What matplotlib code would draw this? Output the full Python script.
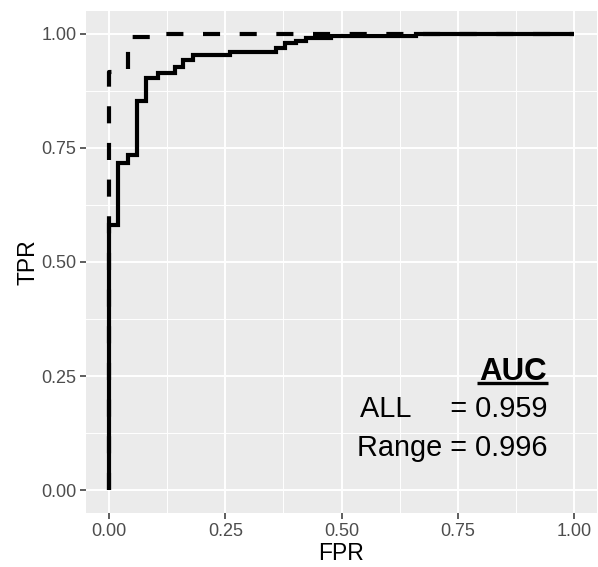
import matplotlib
matplotlib.use("Agg")
import matplotlib.pyplot as plt

plt.rcParams['font.family'] = ['Liberation Sans', 'DejaVu Sans']

# ROC corner points (FPR, TPR)
fpr_all = [0.0, 0.0, 0.019, 0.040, 0.060, 0.080, 0.104, 0.141, 0.159, 0.180,
           0.259, 0.360, 0.378, 0.403, 0.424, 0.478, 0.661, 1.0]
tpr_all = [0.0, 0.580, 0.716, 0.735, 0.852, 0.903, 0.914, 0.928, 0.943, 0.954,
           0.961, 0.968, 0.979, 0.985, 0.990, 0.995, 1.0, 1.0]

fpr_range = [0.0, 0.0, 0.040, 0.100, 1.0]
tpr_range = [0.0, 0.917, 0.994, 1.0, 1.0]

auc_all = 0.959
auc_range = 0.996

ticks = [0.0, 0.25, 0.5, 0.75, 1.0]
tick_labels = ["0.00", "0.25", "0.50", "0.75", "1.00"]

fig = plt.figure(figsize=(5.98, 5.67), dpi=100)
ax = fig.add_axes([86 / 598, 1 - 513 / 567, 511 / 598, 502 / 567])
ax.set_facecolor("#EBEBEB")

ax.plot(fpr_all, tpr_all, drawstyle="steps-post", color="black", lw=3.0,
        solid_capstyle="butt", solid_joinstyle="miter", zorder=3)
ax.plot(fpr_range, tpr_range, drawstyle="steps-post", color="black", lw=3.0,
        linestyle=(0, (4.1, 4.7)), dash_capstyle="butt", zorder=3)

ax.set_xlim(-0.05, 1.05)
ax.set_ylim(-0.05, 1.05)
ax.set_xticks(ticks)
ax.set_xticklabels(tick_labels)
ax.set_yticks(ticks)
ax.set_yticklabels(tick_labels)
ax.set_xticks([0.125, 0.375, 0.625, 0.875], minor=True)
ax.set_yticks([0.125, 0.375, 0.625, 0.875], minor=True)
ax.grid(which="major", color="white", lw=1.4)
ax.grid(which="minor", color="white", lw=0.7)
ax.set_axisbelow(True)
for s in ax.spines.values():
    s.set_visible(False)
ax.tick_params(which="major", length=4, width=1.1, color="#333333",
               labelcolor="#4D4D4D", labelsize=13, pad=3)
ax.tick_params(which="minor", length=0)

ax.set_xlabel("FPR", fontsize=16.5, color="black", labelpad=2)
ax.set_ylabel("TPR", fontsize=16.5, color="black", labelpad=1)

# AUC annotation
xr = 0.943
ax.text(xr, 0.241, "AUC", ha="right", va="baseline", fontsize=22.5,
        fontweight="bold", zorder=4)
ax.plot([0.791, 0.944], [0.234, 0.234], color="black", lw=2.4, zorder=4,
        solid_capstyle="butt")
ax.text(xr, 0.160, "ALL     = %.3f" % auc_all, ha="right", va="baseline",
        fontsize=20.8, zorder=4)
ax.text(xr, 0.0746, "Range = %.3f" % auc_range, ha="right", va="baseline",
        fontsize=20.8, zorder=4)

fig.savefig("out.png", dpi=100)
